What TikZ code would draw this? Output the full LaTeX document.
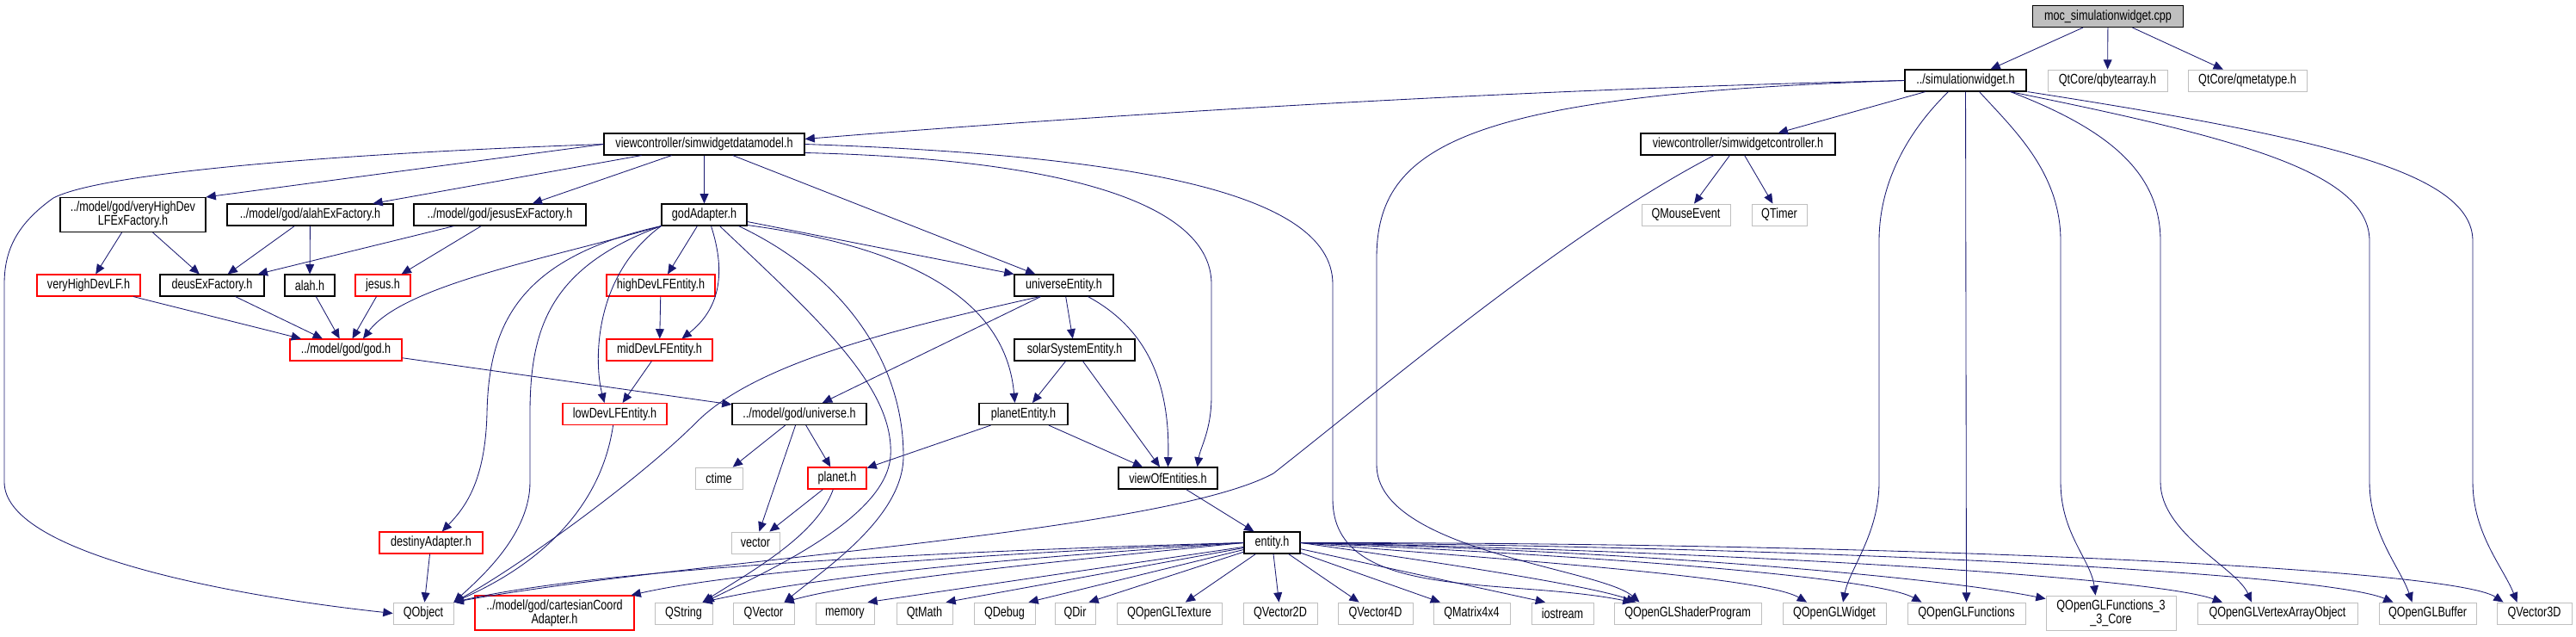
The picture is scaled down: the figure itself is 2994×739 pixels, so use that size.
\documentclass[tikz,border=0pt]{standalone}
\usepackage{fontspec}
\setmainfont{Liberation Sans}[FakeStretch=0.78]
\usetikzlibrary{arrows.meta}

\definecolor{edgeblue}{HTML}{191970}
\definecolor{extgray}{HTML}{BFBFBF}
\definecolor{mocgray}{HTML}{BFBFBF}
\definecolor{hdrred}{HTML}{FF0000}

\tikzset{
  hdr/.style={draw=black, fill=white, line width=0.8pt, minimum height=0.625cm,
    inner xsep=2pt, inner ysep=2pt, align=center,
    font=\fontsize{11.5pt}{11.5pt}\selectfont},
  redhdr/.style={hdr, draw=hdrred},
  ext/.style={hdr, draw=extgray, line width=0.6pt},
  twoline/.style={minimum height=1cm},
  bw/.style={minimum width=#1*0.025cm},
  edge/.style={draw=edgeblue, line width=0.6pt, -{Triangle[length=8pt,width=7pt]}}
}

\begin{document}
\begin{tikzpicture}[x=0.025cm, y=-0.025cm]
  \useasboundingbox (0,0) rectangle (2994,739);

  % top file and its direct includes
  \node[hdr, fill=mocgray, bw=175] (moc) at (2450,19) {moc\_simulationwidget.cpp};
  \node[hdr, bw=141] (sw) at (2284.5,93.5) {../simulationwidget.h};
  \node[ext, bw=139] (qba) at (2449.5,93.5) {QtCore/qbytearray.h};
  \node[ext, bw=138] (qmt) at (2612,93.5) {QtCore/qmetatype.h};

  % view controllers
  \node[hdr, bw=233] (dm) at (818.5,167.5) {viewcontroller/simwidgetdatamodel.h};
  \node[hdr, bw=226] (sc) at (2020,167.5) {viewcontroller/simwidgetcontroller.h};

  % factories and adapters
  \node[hdr, twoline, bw=169] (vhx) at (154.5,249.5) {../model/god/veryHighDev\\LFExFactory.h};
  \node[hdr, bw=193] (alx) at (360.5,249.5) {../model/god/alahExFactory.h};
  \node[hdr, bw=200] (jsx) at (581,249.5) {../model/god/jesusExFactory.h};
  \node[hdr, bw=99] (ga) at (818.5,249.5) {godAdapter.h};
  \node[ext, bw=103] (qme) at (1959.5,249.5) {QMouseEvent};
  \node[ext, bw=64] (qtm) at (2068,249.5) {QTimer};

  \node[redhdr, bw=120] (vhl) at (103,331.5) {veryHighDevLF.h};
  \node[hdr, bw=121] (dex) at (246.5,331.5) {deusExFactory.h};
  \node[hdr, bw=58] (alah) at (360,331.5) {alah.h};
  \node[redhdr, bw=64] (jesus) at (445,331.5) {jesus.h};
  \node[redhdr, bw=126] (hdl) at (768,331.5) {highDevLFEntity.h};
  \node[hdr, bw=115] (ue) at (1236.5,331.5) {universeEntity.h};

  \node[redhdr, bw=130] (god) at (402,406.5) {../model/god/god.h};
  \node[redhdr, bw=123] (mdl) at (766.5,406.5) {midDevLFEntity.h};
  \node[hdr, bw=140] (sse) at (1249,406.5) {solarSystemEntity.h};

  \node[redhdr, bw=121] (ldl) at (714.5,481) {lowDevLFEntity.h};
  \node[hdr, bw=156] (uni) at (929,481) {../model/god/universe.h};
  \node[hdr, bw=103] (pe) at (1189.5,481) {planetEntity.h};

  \node[ext, bw=55] (ctime) at (835.5,555.5) {ctime};
  \node[redhdr, bw=68] (planet) at (973,555.5) {planet.h};
  \node[hdr, bw=115] (voe) at (1357.5,555.5) {viewOfEntities.h};

  \node[redhdr, bw=120] (da) at (501,630.5) {destinyAdapter.h};
  \node[ext, bw=56] (vec) at (878,630.5) {vector};
  \node[hdr, bw=65] (ent) at (1478.5,630.5) {entity.h};

  % bottom row
  \node[ext, bw=70] (qobj) at (492,712.5) {QObject};
  \node[redhdr, twoline, bw=185] (cca) at (644.5,712) {../model/god/cartesianCoord\\Adapter.h};
  \node[ext, bw=67] (qstr) at (794.5,712.5) {QString};
  \node[ext, bw=71] (qvec) at (887.5,712.5) {QVector};
  \node[ext, bw=68] (mem) at (982,712.5) {memory};
  \node[ext, bw=65] (qmath) at (1074.5,712.5) {QtMath};
  \node[ext, bw=71] (qdbg) at (1167.5,712.5) {QDebug};
  \node[ext, bw=47] (qdir) at (1249.5,712.5) {QDir};
  \node[ext, bw=122] (qtex) at (1359,712.5) {QOpenGLTexture};
  \node[ext, bw=86] (qv2) at (1488,712.5) {QVector2D};
  \node[ext, bw=87] (qv4) at (1598.5,712.5) {QVector4D};
  \node[ext, bw=89] (qm44) at (1710.5,712.5) {QMatrix4x4};
  \node[ext, bw=72] (ios) at (1816,712.5) {iostream};
  \node[ext, bw=171] (qsp) at (1961.5,712.5) {QOpenGLShaderProgram};
  \node[ext, bw=120] (qglw) at (2132,712.5) {QOpenGLWidget};
  \node[ext, bw=137] (qglf) at (2285.5,712.5) {QOpenGLFunctions};
  \node[ext, twoline, bw=151] (qglf33) at (2453.5,712) {QOpenGLFunctions\_3\\\_3\_Core};
  \node[ext, bw=186] (qvao) at (2647,712.5) {QOpenGLVertexArrayObject};
  \node[ext, bw=113] (qbuf) at (2821.5,712.5) {QOpenGLBuffer};
  \node[ext, bw=87] (qv3) at (2945.5,712.5) {QVector3D};

  % moc includes
  \draw[edge] (moc) -- (sw);
  \draw[edge] (moc) -- (qba);
  \draw[edge] (moc) -- (qmt);

  % simulationwidget.h includes
  \draw[edge] (sw.west) .. controls (1700,105) and (1200,140) .. ([yshift=0.15cm]dm.east);
  \draw[edge] (sw) -- (sc);
  \draw[edge] (sw.west) .. controls (1700,110) and (1600,170) .. (1600,300) -- (1600,540) .. controls (1600,640) and (1860,660) .. ([xshift=-1.4cm]qsp.north);
  \draw[edge] ([xshift=-0.5cm]sw.south) .. controls (2230,140) and (2184,200) .. (2184,280) -- (2184,560) .. controls (2184,620) and (2150,660) .. ([xshift=0.25cm]qglw.north);
  \draw[edge] (sw) -- (qglf);
  \draw[edge] ([xshift=0.4cm]sw.south) .. controls (2340,150) and (2395,200) .. (2395,280) -- (2395,560) .. controls (2395,620) and (2430,650) .. ([xshift=-0.45cm]qglf33.north);
  \draw[edge] ([xshift=1.3cm]sw.south) .. controls (2450,150) and (2511,200) .. (2511,280) -- (2511,560) .. controls (2511,620) and (2600,660) .. ([xshift=-0.75cm]qvao.north);
  \draw[edge] ([xshift=1.3cm]sw.south) .. controls (2600,160) and (2754,200) .. (2754,280) -- (2754,560) .. controls (2754,620) and (2790,660) .. ([xshift=-0.45cm]qbuf.north);
  \draw[edge] ([xshift=1.8cm]sw.south) .. controls (2700,160) and (2874,200) .. (2874,280) -- (2874,560) .. controls (2874,620) and (2910,660) .. ([xshift=-0.5cm]qv3.north);

  % simwidgetdatamodel.h includes
  \draw[edge] (dm.west) .. controls (400,178) and (120,200) .. (62,230) .. controls (20,260) and (5,290) .. (5,330) -- (5,560) .. controls (5,640) and (250,690) .. (qobj.west);
  \draw[edge] (dm.west) -- (vhx.north east);
  \draw[edge] (dm) -- (alx);
  \draw[edge] (dm) -- (jsx);
  \draw[edge] (dm) -- (ga);
  \draw[edge] (dm) -- (ue);
  \draw[edge] ([yshift=-0.25cm]dm.east) .. controls (1250,185) and (1408,240) .. (1408,330) -- (1408,460) .. controls (1408,500) and (1395,520) .. ([xshift=-0.6cm]voe.north east);
  \draw[edge] (dm.east) .. controls (1300,180) and (1549,220) .. (1549,330) -- (1549,580) .. controls (1549,700) and (1750,670) .. ([xshift=-1.6cm]qsp.north);

  % simwidgetcontroller.h includes
  \draw[edge] (sc) -- (qme);
  \draw[edge] (sc) -- (qtm);
  \draw[edge] ([xshift=-0.7cm]sc.south) .. controls (1820,270) and (1620,440) .. (1480,550) .. controls (1350,620) and (800,650) .. (qobj.north east);

  % godAdapter.h includes
  \draw[edge] (ga) -- (hdl);
  \draw[edge] ([xshift=0.2cm]ga.south) .. controls (845,320) and (835,360) .. ([xshift=0.65cm]mdl.north);
  \draw[edge] (ga.south west) .. controls (690,320) and (690,420) .. ([xshift=-0.3cm]ldl.north);
  \draw[edge] (ga.south west) .. controls (640,300) and (470,330) .. ([xshift=0.5cm]god.north);
  \draw[edge] (ga.south west) .. controls (600,300) and (568,380) .. (566,480) .. controls (564,560) and (540,590) .. ([xshift=0.32cm]da.north);
  \draw[edge] (ga.south west) .. controls (640,310) and (616,380) .. (616,480) -- (616,560) .. controls (616,620) and (560,670) .. (qobj.north east);
  \draw[edge] ([yshift=-0.2cm]ga.east) -- (ue.north west);
  \draw[edge] ([yshift=-0.3cm]ga.east) .. controls (1080,290) and (1170,360) .. ([xshift=-0.25cm]pe.north);
  \draw[edge] ([xshift=0.45cm]ga.south) .. controls (950,370) and (1040,450) .. (1035,530) .. controls (1030,600) and (900,660) .. ([xshift=0.6cm]qstr.north);
  \draw[edge] ([xshift=1cm]ga.south) .. controls (980,320) and (1050,420) .. (1050,530) .. controls (1050,600) and (960,660) .. ([xshift=0.6cm]qvec.north);

  % factories
  \draw[edge] (vhx) -- (vhl);
  \draw[edge] (vhx) -- (dex);
  \draw[edge] (alx) -- (dex);
  \draw[edge] (alx) -- (alah);
  \draw[edge] (jsx) -- (dex);
  \draw[edge] (jsx) -- (jesus);
  \draw[edge] (vhl) -- (god);
  \draw[edge] (dex) -- (god);
  \draw[edge] (alah) -- (god);
  \draw[edge] (jesus) -- (god);

  % entities
  \draw[edge] (hdl) -- (mdl);
  \draw[edge] (mdl) -- (ldl);
  \draw[edge] (ldl) .. controls (700,580) and (640,650) .. (qobj.north east);
  \draw[edge] (god) -- (uni);
  \draw[edge] (ue) -- (sse);
  \draw[edge] (ue) -- (uni);
  \draw[edge] ([xshift=0.7cm]ue.south) .. controls (1330,380) and (1360,440) .. (voe.north);
  \draw[edge] ([xshift=-0.7cm]ue.south) .. controls (1050,380) and (880,420) .. (810,490) .. controls (740,560) and (600,660) .. (qobj.north east);
  \draw[edge] (sse) -- (pe);
  \draw[edge] (sse) -- (voe);
  \draw[edge] (pe) -- (planet);
  \draw[edge] (pe) -- (voe);
  \draw[edge] (uni) -- (ctime);
  \draw[edge] (uni) -- (vec);
  \draw[edge] (uni) -- (planet);
  \draw[edge] (planet) -- (vec);
  \draw[edge] (planet) .. controls (950,620) and (880,660) .. ([xshift=0.55cm]qstr.north);
  \draw[edge] (voe) -- (ent);
  \draw[edge] (da) -- (qobj);

  % entity.h includes
  \draw[edge] (ent.west) .. controls (1100,640) and (700,660) .. (qobj.north east);
  \draw[edge] (ent.west) .. controls (1100,645) and (850,665) .. ([xshift=-0.1cm]cca.north east);
  \draw[edge] (ent.west) .. controls (1150,650) and (950,670) .. ([xshift=0.55cm]qstr.north);
  \draw[edge] (ent.west) .. controls (1200,655) and (1000,675) .. ([xshift=0.6cm]qvec.north);
  \draw[edge] (ent) -- ([xshift=-0.2cm]mem.north east);
  \draw[edge] (ent) -- ([xshift=-0.2cm]qmath.north east);
  \draw[edge] (ent) -- ([xshift=-0.2cm]qdbg.north east);
  \draw[edge] (ent) -- ([xshift=-0.2cm]qdir.north east);
  \draw[edge] (ent) -- (qtex);
  \draw[edge] (ent) -- (qv2);
  \draw[edge] (ent) -- (qv4);
  \draw[edge] (ent) -- (qm44);
  \draw[edge] (ent) -- ([xshift=-0.5cm]ios.north);
  \draw[edge] (ent.east) .. controls (1650,650) and (1850,680) .. ([xshift=-1.5cm]qsp.north);
  \draw[edge] (ent.east) .. controls (1750,650) and (2050,670) .. ([xshift=-0.8cm]qglw.north);
  \draw[edge] (ent.east) .. controls (1850,645) and (2180,670) .. ([xshift=-1.3cm]qglf.north);
  \draw[edge] (ent.east) .. controls (1900,640) and (2250,670) .. ([yshift=-0.1cm]qglf33.north west);
  \draw[edge] (ent.east) .. controls (2000,640) and (2500,670) .. ([xshift=-1.6cm]qvao.north);
  \draw[edge] (ent.east) .. controls (2100,635) and (2700,665) .. ([xshift=-1cm]qbuf.north);
  \draw[edge] (ent.east) .. controls (2200,630) and (2850,660) .. ([xshift=-0.9cm]qv3.north);
\end{tikzpicture}
\end{document}
